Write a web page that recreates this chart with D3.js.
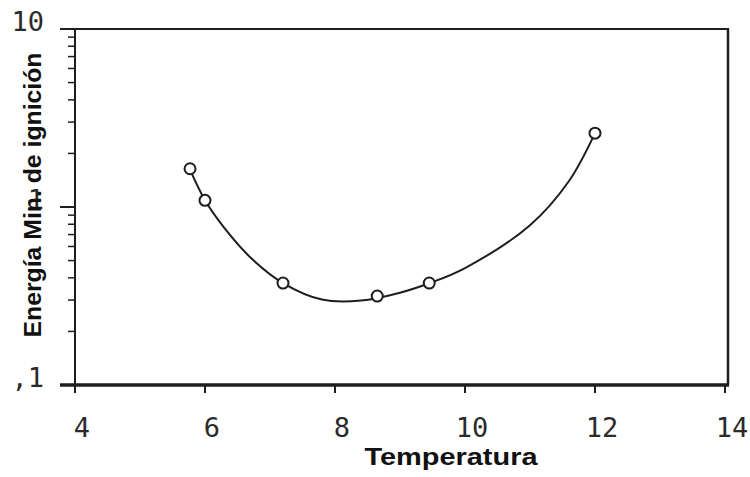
<!DOCTYPE html>
<html>
<head>
<meta charset="utf-8">
<script src="https://cdn.jsdelivr.net/npm/d3@7"></script>
<style>
  body { margin: 0; background: #fff; }
  svg { display: block; }
</style>
</head>
<body>
<script>
// measured points
var tempPoints = [5.77, 6.0, 7.2, 8.65, 9.45, 12.0];
var energyPoints = [1.64, 1.09, 0.374, 0.316, 0.374, 2.6];

// fitted curve
var fitTemp = [5.77, 6.0, 6.3, 6.7, 7.2, 7.8, 8.4, 9.0, 9.46, 10.0, 11.0, 11.6, 12.0];
var fitEnergy = [1.62, 1.09, 0.76, 0.52, 0.374, 0.302, 0.298, 0.33, 0.374, 0.454, 0.79, 1.4, 2.6];

var xTicks = [4, 6, 8, 10, 12, 14];
var yMajor = [0.1, 1, 10];
var yMajorLabels = [",1", "1", "10"];
var yMinor = [0.2, 0.3, 0.4, 0.5, 0.6, 0.7, 0.8, 0.9, 2, 3, 4, 5, 6, 7, 8, 9];

var width = 750, height = 477;
// careful: "top" is window.top, don't use it as a global
var plotLeft = 75, plotRight = 725, plotTop = 29, plotBottom = 385;
var ink = "#1e1e1e";

var svg = d3.select("body").append("svg")
            .attr("width", width)
            .attr("height", height);

var x = d3.scaleLinear().domain([4, 14]).range([plotLeft, plotRight]);
var y = d3.scaleLog().domain([0.1, 10]).range([plotBottom, plotTop]);

// frame
svg.append("line")
   .attr("x1", plotLeft).attr("x2", plotLeft)
   .attr("y1", plotTop).attr("y2", plotBottom + 8)
   .attr("stroke", ink).attr("stroke-width", 2);
svg.append("line")
   .attr("x1", 60).attr("x2", 729)
   .attr("y1", plotTop).attr("y2", plotTop)
   .attr("stroke", ink).attr("stroke-width", 2);
svg.append("line")
   .attr("x1", 728).attr("x2", 728)
   .attr("y1", plotTop).attr("y2", plotBottom)
   .attr("stroke", ink).attr("stroke-width", 2.5);
svg.append("line")
   .attr("x1", 60).attr("x2", 729)
   .attr("y1", plotBottom).attr("y2", plotBottom)
   .attr("stroke", ink).attr("stroke-width", 3.5);

// y ticks
svg.selectAll("line.ymajor")
   .data(yMajor)
   .enter()
   .append("line")
   .attr("class", "ymajor")
   .attr("x1", 60).attr("x2", plotLeft)
   .attr("y1", function(d) { return y(d); })
   .attr("y2", function(d) { return y(d); })
   .attr("stroke", ink).attr("stroke-width", 2);

svg.selectAll("line.yminor")
   .data(yMinor)
   .enter()
   .append("line")
   .attr("class", "yminor")
   .attr("x1", 68).attr("x2", plotLeft)
   .attr("y1", function(d) { return y(d); })
   .attr("y2", function(d) { return y(d); })
   .attr("stroke", ink).attr("stroke-width", 1.5);

svg.selectAll("text.ylab")
   .data(yMajor)
   .enter()
   .append("text")
   .attr("class", "ylab")
   .attr("x", 44)
   .attr("y", function(d) { return y(d) + 2; })
   .attr("text-anchor", "end")
   .attr("font-family", "DejaVu Sans Mono")
   .attr("font-size", 27)
   .attr("fill", "#2a2a2a")
   .text(function(d, i) { return yMajorLabels[i]; });

// x ticks
svg.selectAll("line.xtick")
   .data(xTicks)
   .enter()
   .append("line")
   .attr("class", "xtick")
   .attr("x1", function(d) { return x(d); })
   .attr("x2", function(d) { return x(d); })
   .attr("y1", plotBottom).attr("y2", plotBottom + 8)
   .attr("stroke", ink).attr("stroke-width", 2);

svg.selectAll("text.xlab")
   .data(xTicks)
   .enter()
   .append("text")
   .attr("class", "xlab")
   .attr("x", function(d) { return x(d) + 7; })
   .attr("y", 437)
   .attr("text-anchor", "middle")
   .attr("font-family", "DejaVu Sans Mono")
   .attr("font-size", 27)
   .attr("fill", "#2a2a2a")
   .text(function(d) { return d; });

// axis titles
svg.append("text")
   .attr("x", 451).attr("y", 465)
   .attr("text-anchor", "middle")
   .attr("font-family", "Liberation Sans, Arial, sans-serif")
   .attr("font-weight", "bold")
   .attr("font-size", 23)
   .attr("textLength", 173)
   .attr("lengthAdjust", "spacingAndGlyphs")
   .attr("fill", "#111")
   .text("Temperatura");

svg.append("text")
   .attr("transform", "translate(41,195) rotate(-90)")
   .attr("text-anchor", "middle")
   .attr("font-family", "Liberation Sans, Arial, sans-serif")
   .attr("font-weight", "bold")
   .attr("font-size", 24)
   .attr("textLength", 285)
   .attr("lengthAdjust", "spacingAndGlyphs")
   .attr("fill", "#111")
   .text("Energía Min. de ignición");

// fitted curve
var fit = fitTemp.map(function(t, i) { return [t, fitEnergy[i]]; });
var line = d3.line()
             .x(function(d) { return x(d[0]); })
             .y(function(d) { return y(d[1]); })
             .curve(d3.curveCatmullRom.alpha(0.5));

svg.append("path")
   .attr("d", line(fit))
   .attr("fill", "none")
   .attr("stroke", ink)
   .attr("stroke-width", 2);

// markers
var pts = tempPoints.map(function(t, i) { return [t, energyPoints[i]]; });
svg.selectAll("circle.pt")
   .data(pts)
   .enter()
   .append("circle")
   .attr("class", "pt")
   .attr("cx", function(d) { return x(d[0]); })
   .attr("cy", function(d) { return y(d[1]); })
   .attr("r", 5.5)
   .attr("fill", "#fff")
   .attr("stroke", ink)
   .attr("stroke-width", 2);
</script>
</body>
</html>
